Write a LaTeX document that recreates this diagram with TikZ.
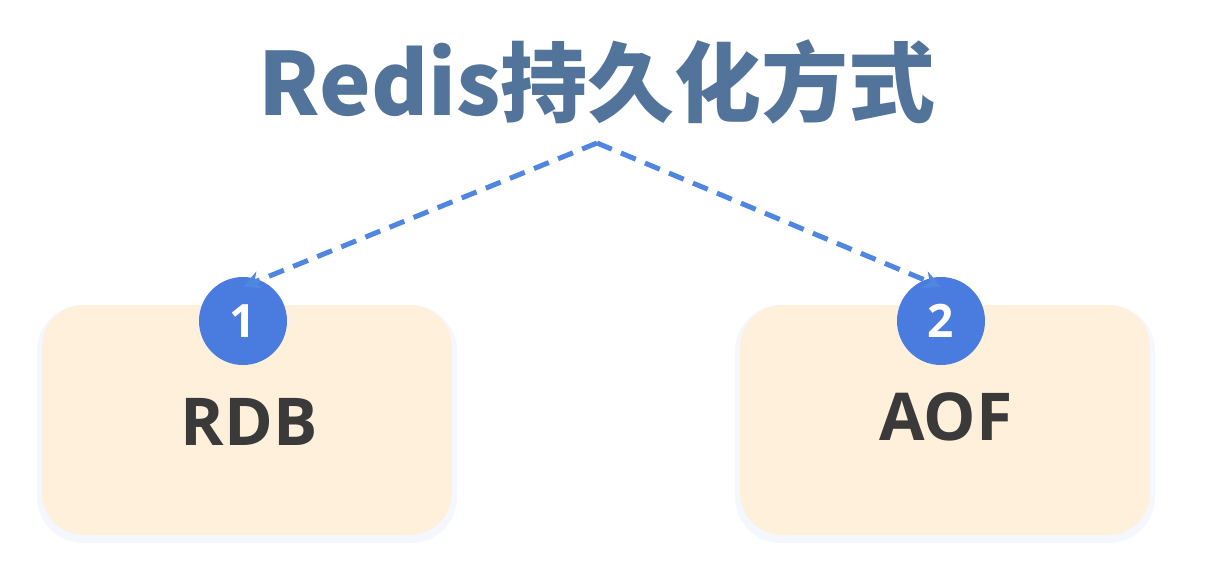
\documentclass[tikz,border=0pt]{standalone}
\usepackage{fontspec}
\setmainfont{Open Sans}
\newfontfamily\cjk{Noto Sans CJK SC}
\usetikzlibrary{arrows.meta}
\usetikzlibrary{positioning}
\definecolor{titleblue}{HTML}{52739A}
\definecolor{boxfill}{HTML}{FFF0DC}
\definecolor{numblue}{HTML}{4A7BDE}
\definecolor{arrowblue}{HTML}{4F86E0}
\definecolor{textdark}{HTML}{3A3A3A}
\tikzset{
  way/.style={fill=boxfill, rounded corners=42pt, minimum width=410pt, minimum height=230pt, inner sep=0},
  glow/.style={fill=numblue!6, rounded corners=46pt, minimum width=420pt, minimum height=238pt, inner sep=0},
  num/.style={circle, fill=numblue, minimum size=88pt, inner sep=0, text=white, font=\bfseries\fontsize{46}{46}\selectfont},
  wayname/.style={text=textdark, font=\bfseries\fontsize{66}{66}\selectfont},
  arrow/.style={-{Stealth[length=18pt,width=18pt]}, arrowblue, line width=5pt, dash pattern=on 16pt off 10pt}
}
\begin{document}
\begin{tikzpicture}[x=1pt,y=-1pt]
  \useasboundingbox (0,0) rectangle (1226,572);
  \node (title) at (597,82) [text=titleblue, font=\cjk\bfseries\fontsize{87}{87}\selectfont] {Redis持久化方式};
  % boxes
  \node [glow] at (247,424) {};
  \node [glow] at (945,424) {};
  \node (rdbbox) at (247,420) [way] {};
  \node (aofbox) at (945,420) [way] {};
  \node (rdb) at (249,422) [wayname] {RDB};
  \node (aof) at (946,417) [wayname] {AOF};
  \node (one) at (243,321) [num] {1};
  \node (two) at (941,321) [num] {2};
  \coordinate (split) at (597,143);
  \draw [arrow] (split) -- ([yshift=-10pt]one.north);
  \draw [arrow] (split) -- ([yshift=-10pt]two.north);
\end{tikzpicture}
\end{document}
